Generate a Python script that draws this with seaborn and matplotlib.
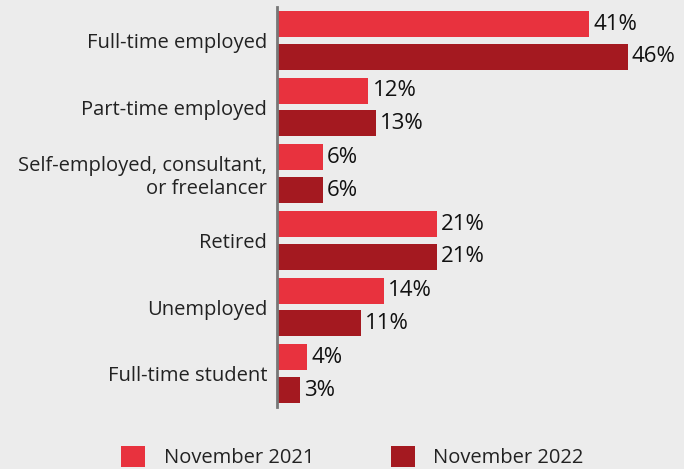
import pandas as pd
import numpy as np
import matplotlib
matplotlib.use("Agg")
import matplotlib.pyplot as plt
import seaborn as sns

# данные с картинки
categories = ["Full-time employed", "Part-time employed",
              "Self-employed, consultant,\nor freelancer", "Retired",
              "Unemployed", "Full-time student"]
nov_2021 = [41, 12, 6, 21, 14, 4]
nov_2022 = [46, 13, 6, 21, 11, 3]
series = ["November 2021", "November 2022"]
colors = ["#e8323e", "#a41920"]

df = pd.DataFrame({
    "category": categories * 2,
    "value": nov_2021 + nov_2022,
    "period": [series[0]] * len(categories) + [series[1]] * len(categories),
})

sns.set_style("white")
plt.rcParams["font.family"] = ["Open Sans", "DejaVu Sans"]
bg = "#ececec"

fig = plt.figure(figsize=(6.84, 4.69), dpi=100, facecolor=bg)
ax = fig.add_axes([277 / 684, 1 - 407 / 469, 381 / 684, 400 / 469])
ax.set_facecolor(bg)

sns.barplot(data=df, y="category", x="value", hue="period", orient="h",
            palette=colors, width=0.98, gap=0.2, ax=ax, legend=True,
            saturation=1, linewidth=0)

for cont in ax.containers:
    ax.bar_label(cont, labels=[f"{v:.0f}%" for v in cont.datavalues],
                 padding=3, fontsize=16, color="#111111")

ax.set_xlim(0, 50)
ax.set_ylim(5.5, -0.5)
ax.set(xlabel="", ylabel="")
ax.set_xticks([])
ax.tick_params(axis="y", length=0, pad=7, labelsize=14.5, labelcolor="#222222")
for lbl in ax.get_yticklabels():
    lbl.set_horizontalalignment("right")
    lbl.set_multialignment("right")

sns.despine(ax=ax, left=False, bottom=True)
ax.spines["left"].set_color("#777777")
ax.spines["left"].set_linewidth(2)

handles, labels = ax.get_legend_handles_labels()
ax.get_legend().remove()
leg = fig.legend(handles, labels, loc="upper center",
                 bbox_to_anchor=(0.515, 1 - 436 / 469), ncol=2, frameon=False,
                 fontsize=14.5, handlelength=1.2, handleheight=1.2,
                 columnspacing=3.8, handletextpad=0.9, borderpad=0.0)
for t in leg.get_texts():
    t.set_color("#222222")

fig.savefig("out.png", dpi=100, facecolor=bg)
